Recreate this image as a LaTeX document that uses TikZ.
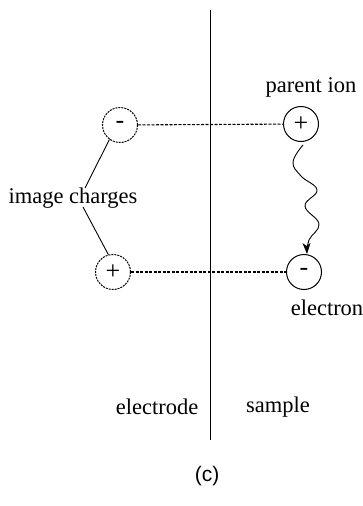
\documentclass[tikz,border=0pt]{standalone}
\usepackage{fontspec}
\setmainfont{Liberation Serif}
\newfontfamily\labsans{Liberation Sans}
\usetikzlibrary{arrows.meta}
\begin{document}
\begin{tikzpicture}[x=1pt,y=-1pt,
  lbl/.style={font=\fontsize{22.5}{26}\selectfont, inner sep=0pt},
  chg/.style={circle, minimum size=35pt, inner sep=0pt, line width=1pt, font=\fontsize{26}{28}\selectfont},
  imgchg/.style={chg, draw, dash pattern=on 2pt off 1pt},
  realchg/.style={chg, draw},
  link/.style={line width=1.1pt, dash pattern=on 3pt off 1.5pt},
  plain/.style={line width=0.9pt}]
\useasboundingbox (0,0) rectangle (363,506);
% electrode/sample interface
\coordinate (top) at (210,10);
\coordinate (bot) at (210,440);
\draw[plain] (top) -- (bot);
% charges
\node[imgchg] (L1) at (120,125) {-};
\node[imgchg] (L2) at (113,272) {+};
\node[realchg] (R1) at (301,124) {+};
\node[realchg] (R2) at (304,272) {-};
% dashed links
\draw[link] (L1) -- (R1);
\draw[link] (L2) -- (R2);
% labels
\node[lbl] (pi) at (311,87) {parent ion};
\node[lbl] (el) at (327,308) {electron};
\node[lbl] (ic) at (73,198) {image charges};
\node[lbl] (ed) at (157,407) {electrode};
\node[lbl] (sa) at (278,407) {sample};
\node[inner sep=0pt, font=\labsans\fontsize{21}{24}\selectfont] (cap) at (207,476) {(c)};
% pointer lines
\coordinate (p1) at (85,188);
\coordinate (p2) at (83,207);
\draw[plain] (L1.234) -- (p1);
\draw[plain] (L2.105) -- (p2);
% wavy transfer arrow
\coordinate (w0) at (303,145);
\coordinate (w7) at (307,254);
\draw[plain, -{Stealth[length=11pt,width=8pt,inset=3pt]}] plot[smooth, tension=0.7] coordinates {(w0) (293,162) (301,176) (317,190) (305,206) (319,224) (309,240) (w7)};
\end{tikzpicture}
\end{document}
